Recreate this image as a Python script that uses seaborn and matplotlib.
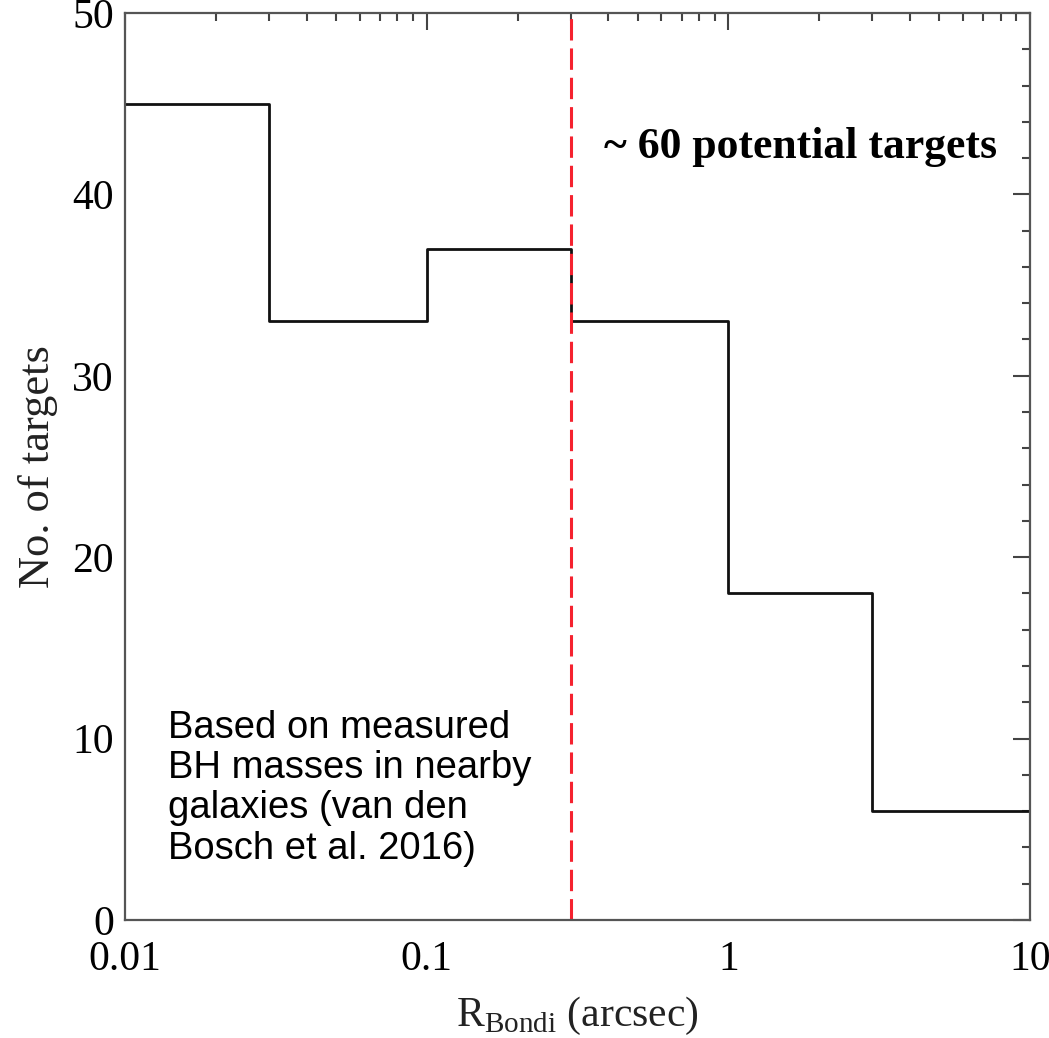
import numpy as np
import pandas as pd
import matplotlib
matplotlib.use("Agg")
import matplotlib.pyplot as plt
import seaborn as sns
from matplotlib.ticker import LogLocator, NullFormatter, MultipleLocator

bin_edges = [0.01, 0.03, 0.1, 0.3, 1.0, 3.0, 10.0]
counts = [45, 33, 37, 33, 18, 6]
xticks = [0.01, 0.1, 1, 10]
xtick_labels = ["0.01", "0.1", "1", "10"]
yticks = [0, 10, 20, 30, 40, 50]
cut_value = 0.3

sns.set_theme(style="white")
plt.rcParams['font.family'] = ['Liberation Serif', 'DejaVu Serif']
plt.rcParams['mathtext.fontset'] = 'custom'
plt.rcParams['mathtext.rm'] = 'Liberation Serif'

centers = [float(np.sqrt(bin_edges[i] * bin_edges[i + 1])) for i in range(len(counts))]
df = pd.DataFrame({"R": centers, "n": counts})
log_edges = [float(np.log10(e)) for e in bin_edges]

fig = plt.figure(figsize=(10.49, 10.38), dpi=100)
ax = fig.add_axes([0.1192, 0.1137, 0.8627, 0.8738])

# with log_scale=True seaborn takes the bin edges in log10 space
sns.histplot(data=df, x="R", weights="n", bins=log_edges, element="step",
             fill=False, color="#111111", linewidth=2.0, log_scale=True, ax=ax)

ax.axvline(cut_value, color="#f5222f", linestyle=(0, (7, 2.6)), linewidth=2.2)

ax.set_xlim(0.01, 10)
ax.set_ylim(0, 50)
ax.set_xticks(xticks)
ax.set_xticklabels(xtick_labels)
ax.xaxis.set_minor_locator(LogLocator(base=10, subs=np.arange(2, 10)))
ax.xaxis.set_minor_formatter(NullFormatter())
ax.set_yticks(yticks)
ax.yaxis.set_minor_locator(MultipleLocator(2))

ax.tick_params(which="both", direction="in", top=True, right=True, colors="#444444",
               labelcolor="black", labelsize=30, width=1.5)
ax.tick_params(which="major", length=12)
ax.tick_params(which="minor", length=6)
ax.tick_params(axis="x", which="major", pad=15)
ax.tick_params(axis="y", which="major", pad=8)

for s in ax.spines.values():
    s.set_color("#555555")
    s.set_linewidth(1.6)

ax.set_xlabel(r"R$_{\mathrm{Bondi}}$ (arcsec)", fontsize=30, labelpad=11, color="#222222")
ax.set_ylabel("No. of targets", fontsize=32, labelpad=10, color="#222222")

ax.text(0.529, 0.852, "~ 60 potential targets", transform=ax.transAxes,
        fontsize=31.5, fontweight="bold", ha="left", va="center", color="black")
ax.text(0.047, 0.2315, "Based on measured\nBH masses in nearby\ngalaxies (van den\nBosch et al. 2016)",
        transform=ax.transAxes, fontsize=27.5, ha="left", va="top",
        family=["Liberation Sans", "DejaVu Sans"], linespacing=1.15, color="black")

fig.savefig("out.png", dpi=100, facecolor="white")
